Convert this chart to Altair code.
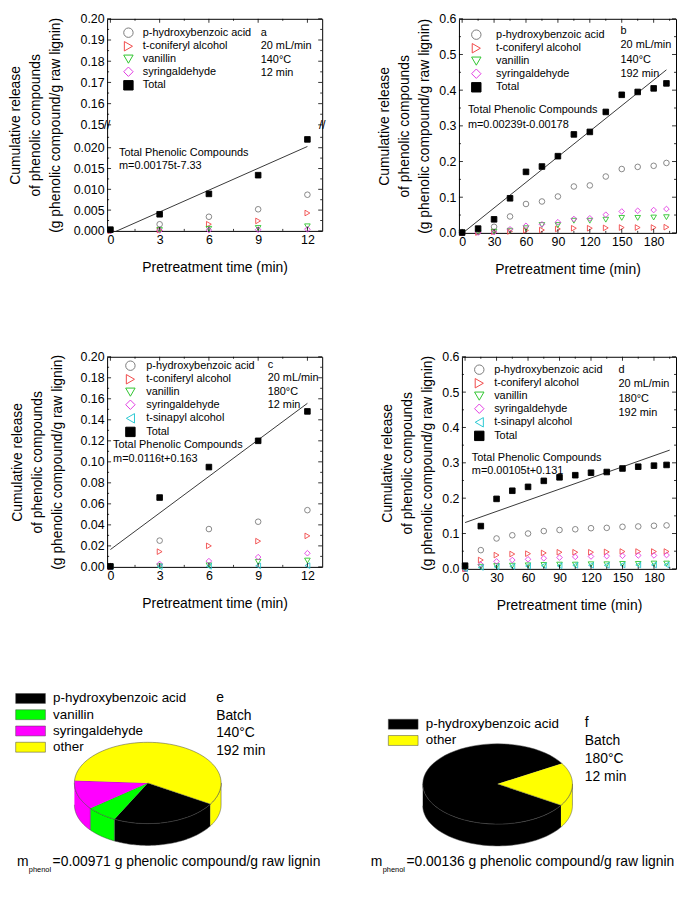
import altair as alt
import pandas as pd

FONT = "Liberation Sans"

# ---------------- data ----------------
time_short = [0, 3, 6, 9, 12]
time_long = [0, 15, 30, 45, 60, 75, 90, 105, 120, 135, 150, 165, 180, 192]

series5 = ["p-hydroxybenzoic acid", "t-coniferyl alcohol", "vanillin", "syringaldehyde", "Total"]
series6 = ["p-hydroxybenzoic acid", "t-coniferyl alcohol", "vanillin", "syringaldehyde",
           "t-sinapyl alcohol", "Total"]

# panel a: 20 mL/min, 140 C, 12 min
a_phb = [0.0001, 0.0016, 0.0034, 0.0052, 0.0087]
a_conif = [0.0, 0.0002, 0.0016, 0.0024, 0.0043]
a_van = [0.0, 0.0002, 0.0005, 0.0007, 0.0011]
a_syr = [0.0, 0.0001, 0.0002, 0.0003, 0.0004]
a_total = [0.0003, 0.0040, 0.0089, 0.0134, 0.0220]
a_fit_t = [0, 12]
a_fit_m = [-0.0007, 0.0203]

# panel b: 20 mL/min, 140 C, 192 min
b_phb = [0.0, 0.003, 0.017, 0.046, 0.081, 0.088, 0.102, 0.130, 0.133, 0.158, 0.179, 0.185, 0.188, 0.196]
b_conif = [0.0, 0.001, 0.003, 0.004, 0.007, 0.008, 0.011, 0.013, 0.013, 0.014, 0.015, 0.015, 0.015, 0.016]
b_van = [0.0, 0.001, 0.003, 0.006, 0.013, 0.022, 0.022, 0.034, 0.034, 0.037, 0.042, 0.042, 0.043, 0.044]
b_syr = [0.0, 0.001, 0.002, 0.010, 0.020, 0.024, 0.030, 0.039, 0.041, 0.051, 0.060, 0.062, 0.064, 0.067]
b_total = [0.001, 0.012, 0.038, 0.097, 0.171, 0.186, 0.215, 0.276, 0.283, 0.339, 0.387, 0.395, 0.405, 0.419]
b_fit_t = [0, 192]
b_fit_m = [-0.0018, 0.457]

# panel c: 20 mL/min, 180 C, 12 min
c_phb = [0.0, 0.025, 0.036, 0.043, 0.054]
c_conif = [0.0, 0.0145, 0.020, 0.0245, 0.0295]
c_van = [0.0, 0.0005, 0.0015, 0.0048, 0.0060]
c_syr = [0.0, 0.0028, 0.0055, 0.0093, 0.0130]
c_sinap = [0.0, 0.0002, 0.0005, 0.0010, 0.0012]
c_total = [0.0005, 0.066, 0.095, 0.120, 0.148]
c_fit_t = [0, 12]
c_fit_m = [0.0165, 0.1557]

# panel d: 20 mL/min, 180 C, 192 min
d_phb = [0.0, 0.053, 0.086, 0.095, 0.100, 0.107, 0.110, 0.112, 0.115, 0.116, 0.119, 0.120, 0.122, 0.123]
d_conif = [0.0, 0.025, 0.039, 0.042, 0.043, 0.045, 0.047, 0.047, 0.047, 0.048, 0.049, 0.049, 0.049, 0.049]
d_van = [0.0, 0.006, 0.008, 0.009, 0.010, 0.011, 0.012, 0.012, 0.013, 0.013, 0.014, 0.014, 0.015, 0.015]
d_syr = [0.0, 0.012, 0.021, 0.025, 0.027, 0.030, 0.032, 0.034, 0.035, 0.036, 0.037, 0.038, 0.038, 0.039]
d_sinap = [0.0, 0.004, 0.006, 0.007, 0.008, 0.009, 0.009, 0.010, 0.010, 0.010, 0.011, 0.011, 0.011, 0.011]
d_total = [0.009, 0.121, 0.198, 0.221, 0.232, 0.249, 0.259, 0.265, 0.272, 0.274, 0.284, 0.289, 0.292, 0.294]
d_fit_t = [0, 195]
d_fit_m = [0.131, 0.336]

# pies (percent of released phenolics)
pie_e_names = ["p-hydroxybenzoic acid", "vanillin", "syringaldehyde", "other"]
pie_e_share = [23.8, 6.8, 11.6, 57.8]
pie_f_names = ["p-hydroxybenzoic acid", "other"]
pie_f_share = [82.6, 17.4]

# tick positions
x_major_short = [0, 3, 6, 9, 12]
x_minor_short = [1.5, 4.5, 7.5, 10.5]
x_major_long = [0, 30, 60, 90, 120, 150, 180]
x_minor_long = [15, 45, 75, 105, 135, 165, 195]
y_major_06 = [0, 0.1, 0.2, 0.3, 0.4, 0.5, 0.6]
y_minor_06 = [0.05, 0.15, 0.25, 0.35, 0.45, 0.55]
y_major_c = [0, 0.02, 0.04, 0.06, 0.08, 0.10, 0.12, 0.14, 0.16, 0.18, 0.20]
y_minor_c = [0.01, 0.03, 0.05, 0.07, 0.09, 0.11, 0.13, 0.15, 0.17, 0.19]

# ---------------- styles ----------------
SHAPES = {"p-hydroxybenzoic acid": "circle", "t-coniferyl alcohol": "triangle-right",
          "vanillin": "triangle-down", "syringaldehyde": "diamond",
          "t-sinapyl alcohol": "triangle-left", "Total": "square"}
STROKES = {"p-hydroxybenzoic acid": "#7a7a7a", "t-coniferyl alcohol": "#f04848",
           "vanillin": "#2ec42e", "syringaldehyde": "#e23ce2",
           "t-sinapyl alcohol": "#2cc8d2", "Total": "#000000"}
FILLS = {k: ("#000000" if k == "Total" else "transparent") for k in STROKES}
PIE_COLORS = {"p-hydroxybenzoic acid": "#000000", "vanillin": "#00ff00",
              "syringaldehyde": "#ff00ff", "other": "#ffff00"}

Y_TITLE = ["Cumulative release", "of phenolic compounds", "(g phenolic compound/g raw lignin)"]
X_TITLE = "Pretreatment time (min)"

# broken axis of panel a
BREAK_LO = 0.0255
UP_LO, UP_HI = 0.15, 0.20
FACTOR = BREAK_LO / (UP_HI - UP_LO)
a_lower_ticks = [0.0, 0.005, 0.010, 0.015, 0.020]
a_lower_minor = [0.0025, 0.0075, 0.0125, 0.0175, 0.0225]
a_upper_ticks = [0.15, 0.16, 0.17, 0.18, 0.19, 0.20]
a_upper_minor = [0.155, 0.165, 0.175, 0.185, 0.195]

# left overhang of the axis in the first column (rows are origin-aligned)
ORIGIN = 100
MAJ, MIN = 4, 2


def one():
    return pd.DataFrame({"o": [0]})


def text_layer(lines, x, y, size=11, lh=13.7, align="left"):
    return alt.Chart(one()).mark_text(
        align=align, baseline="top", font=FONT, fontSize=size, lineHeight=lh, color="black"
    ).encode(x=alt.value(x), y=alt.value(y), text=alt.value(lines))


def tick_layers(xs, ys, xaxis, yaxis, xmaj, xmin, ymaj, ymin, W, H):
    out = []
    for vals, ln in ((xmaj, MAJ), (xmin, MIN)):
        d = pd.DataFrame({"v": vals})
        for y0, y1 in ((H, H - ln), (0, ln)):
            out.append(alt.Chart(d).mark_rule(color="black", strokeWidth=0.8).encode(
                x=alt.X("v:Q", scale=xs, axis=xaxis), y=alt.value(y0), y2=alt.value(y1)))
    for vals, ln in ((ymaj, MAJ), (ymin, MIN)):
        d = pd.DataFrame({"v": vals})
        for x0, x1 in ((0, ln), (W, W - ln)):
            out.append(alt.Chart(d).mark_rule(color="black", strokeWidth=0.8).encode(
                y=alt.Y("v:Q", scale=ys, axis=yaxis), x=alt.value(x0), x2=alt.value(x1)))
    return out


def scatter_panel(times, values, names, fit_t, fit_m, xdom, xticks, xminor, ydom, yticks, yminor,
                  yfmt, width, height, yext, ypad, leg_x, leg_y, leg_off,
                  info, info_xy, info_lh, fit_txt, fit_xy, fit_lh,
                  label_expr=None, broken=False):
    rows = []
    for name, vals in zip(names, values):
        for t, v in zip(times, vals):
            rows.append({"t": t, "m": v, "series": name})
    df = pd.DataFrame(rows)
    fit = pd.DataFrame({"t": fit_t, "m": fit_m})
    if broken:
        ycalc = f"datum.m <= {BREAK_LO} ? datum.m : {BREAK_LO} + (datum.m - {UP_LO}) * {FACTOR}"
    else:
        ycalc = "datum.m"

    xs = alt.Scale(domain=xdom, nice=False, zero=False)
    ys = alt.Scale(domain=ydom, nice=False, zero=False)
    xaxis = alt.Axis(values=xticks, format="d", title=X_TITLE, titlePadding=14,
                     labelPadding=3, ticks=False, domain=False)
    ykw = dict(values=yticks, title=Y_TITLE, titlePadding=ypad, minExtent=yext, maxExtent=yext,
               labelPadding=3, ticks=False, domain=False, titleLineHeight=20)
    if label_expr:
        ykw["labelExpr"] = label_expr
    else:
        ykw["format"] = yfmt
    yaxis = alt.Axis(**ykw)

    leg = alt.Legend(title=None, orient="none", legendX=leg_x, legendY=leg_y, padding=0,
                     symbolSize=90, symbolStrokeWidth=1, labelFontSize=11, labelFont=FONT,
                     labelColor="black", labelOffset=leg_off, rowPadding=-1.3)

    pts = alt.Chart(df).transform_calculate(y=ycalc).mark_point(
        size=32, strokeWidth=0.9, opacity=1
    ).encode(
        x=alt.X("t:Q", scale=xs, axis=xaxis),
        y=alt.Y("y:Q", scale=ys, axis=yaxis),
        shape=alt.Shape("series:N", scale=alt.Scale(domain=names, range=[SHAPES[n] for n in names]),
                        legend=leg, sort=names),
        stroke=alt.Stroke("series:N", scale=alt.Scale(domain=names, range=[STROKES[n] for n in names]),
                          legend=leg, sort=names),
        fill=alt.Fill("series:N", scale=alt.Scale(domain=names, range=[FILLS[n] for n in names]),
                      legend=leg, sort=names),
    )
    line = alt.Chart(fit).transform_calculate(y=ycalc).mark_line(
        color="#222222", strokeWidth=0.9, clip=True
    ).encode(x=alt.X("t:Q", scale=xs, axis=xaxis), y=alt.Y("y:Q", scale=ys, axis=yaxis))

    layers = [line, pts] + tick_layers(xs, ys, xaxis, yaxis, xticks, xminor, yticks, yminor,
                                       width, height)
    layers += [text_layer(info, info_xy[0], info_xy[1], lh=info_lh),
               text_layer(fit_txt, fit_xy[0], fit_xy[1], lh=fit_lh)]
    if broken:
        for xv in (0, width):
            layers.append(alt.Chart(one()).mark_text(
                text="//", font=FONT, fontSize=12, color="black"
            ).encode(x=alt.value(xv),
                     y=alt.YDatum(BREAK_LO, type="quantitative", scale=ys, axis=yaxis)))
    return alt.layer(*layers).properties(width=width, height=height)


def brk(v):
    return BREAK_LO + (v - UP_LO) * FACTOR


a_ticks = a_lower_ticks + [brk(v) for v in a_upper_ticks]
a_minor = a_lower_minor + [brk(v) for v in a_upper_minor]
a_label_expr = (f"datum.value > {BREAK_LO - 0.0005} ? "
                f"format((datum.value - {BREAK_LO}) / {FACTOR} + {UP_LO}, '.2f') : "
                f"format(datum.value, '.3f')")

pa = scatter_panel(time_short, [a_phb, a_conif, a_van, a_syr, a_total], series5,
                   a_fit_t, a_fit_m, [-0.2, 12.9], x_major_short, x_minor_short,
                   [0, 2 * BREAK_LO], a_ticks, a_minor, ".3f",
                   217, 214, 36, 9, 16, 8.5, 9,
                   ["a", "20 mL/min", "140°C", "12 min"], (155, 8), 13.7,
                   ["Total Phenolic Compounds", "m=0.00175t-7.33"], (12, 129), 14,
                   label_expr=a_label_expr, broken=True)

pb = scatter_panel(time_long, [b_phb, b_conif, b_van, b_syr, b_total], series5,
                   b_fit_t, b_fit_m, [-3, 201], x_major_long, x_minor_long,
                   [0, 0.6], y_major_06, y_minor_06, ".1f",
                   219, 216, 24, 4, 12, 10.5, 14.5,
                   ["b", "20 mL/min", "140°C", "192 min"], (163, 6), 14.7,
                   ["Total Phenolic Compounds", "m=0.00239t-0.00178"], (9, 86), 15)

pc = scatter_panel(time_short, [c_phb, c_conif, c_van, c_syr, c_sinap, c_total], series6,
                   c_fit_t, c_fit_m, [-0.2, 12.9], x_major_short, x_minor_short,
                   [0, 0.2], y_major_c, y_minor_c, ".2f",
                   217, 212, 36, 7, 18, 3.5, 10.5,
                   ["c", "20 mL/min", "180°C", "12 min"], (162, 2), 13.7,
                   ["Total Phenolic Compounds", "m=0.0116t+0.163"], (6, 83), 14)

pd_ = scatter_panel(time_long, [d_phb, d_conif, d_van, d_syr, d_sinap, d_total], series6,
                    d_fit_t, d_fit_m, [-3, 201], x_major_long, x_minor_long,
                    [0, 0.6], y_major_06, y_minor_06, ".1f",
                    216, 214, 24, 4, 12, 7.5, 9.5,
                    ["d", "20 mL/min", "180°C", "192 min"], (158, 7), 14.7,
                    ["Total Phenolic Compounds", "m=0.00105t+0.131"], (10, 96), 13.5)


# ---------------- pseudo-3D pies ----------------
N = 60


def pie_panel(names, shares, ccw_rank, start, cx, cy, rx, ry, depth, x0, W, H,
              leg_x, leg_y, info, info_xy, m_xy, mtext):
    """x0: horizontal offset between the panel's own coordinates and its plot origin."""
    df = pd.DataFrame({"slice": names, "share": shares, "k": ccw_rank})
    xs = alt.Scale(domain=[x0, x0 + W], nice=False, zero=False)
    ys = alt.Scale(domain=[0, H], nice=False, zero=False, reverse=True)
    cs = alt.Scale(domain=names, range=[PIE_COLORS[n] for n in names])
    leg = alt.Legend(title=None, orient="none", legendX=leg_x - x0, legendY=leg_y, padding=0,
                     symbolType="M-3,-1H3V1H-3Z", symbolSize=100, symbolStrokeColor="#444444",
                     symbolStrokeWidth=0.5, labelFontSize=13.5, labelFont=FONT, labelColor="black",
                     labelOffset=16, rowPadding=1.4)
    base = (alt.Chart(df)
            .transform_joinaggregate(total="sum(share)")
            .transform_window(cum="sum(share)", sort=[alt.SortField("k", order="ascending")],
                              frame=[None, 0])
            .transform_calculate(a0=f"{start} + (datum.cum - datum.share) / datum.total * 360",
                                 a1=f"{start} + datum.cum / datum.total * 360"))

    sides = (base
             .transform_calculate(band="[-180, 180, 540]")
             .transform_flatten(["band"])
             .transform_calculate(s0="max(datum.a0, datum.band)", s1="min(datum.a1, datum.band + 180)")
             .transform_filter("datum.s1 > datum.s0")
             .transform_calculate(idx=f"sequence(0, {2 * N + 2})")
             .transform_flatten(["idx"])
             .transform_calculate(
                 ang=f"datum.idx <= {N} ? datum.s0 + (datum.s1 - datum.s0) * datum.idx / {N} : "
                     f"datum.s1 - (datum.s1 - datum.s0) * (datum.idx - {N + 1}) / {N}",
                 key="datum.slice + '_' + datum.band")
             .transform_calculate(
                 px=f"{cx} + {rx} * cos(datum.ang * PI / 180)",
                 py=f"{cy} - {ry} * sin(datum.ang * PI / 180) + (datum.idx <= {N} ? 0 : {depth})")
             .mark_line(filled=True, stroke="#444444", strokeWidth=0.5)
             .encode(x=alt.X("px:Q", scale=xs, axis=None), y=alt.Y("py:Q", scale=ys, axis=None),
                     color=alt.Color("slice:N", scale=cs, legend=leg, sort=names),
                     detail="key:N", order=alt.Order("idx:Q")))

    tops = (base
            .transform_calculate(idx=f"sequence(0, {N + 2})")
            .transform_flatten(["idx"])
            .transform_calculate(ang=f"datum.a0 + (datum.a1 - datum.a0) * (datum.idx - 1) / {N}")
            .transform_calculate(
                px=f"datum.idx == 0 ? {cx} : {cx} + {rx} * cos(datum.ang * PI / 180)",
                py=f"datum.idx == 0 ? {cy} : {cy} - {ry} * sin(datum.ang * PI / 180)")
            .mark_line(filled=True, stroke="#444444", strokeWidth=0.5)
            .encode(x=alt.X("px:Q", scale=xs, axis=None), y=alt.Y("py:Q", scale=ys, axis=None),
                    color=alt.Color("slice:N", scale=cs, legend=leg, sort=names),
                    detail="slice:N", order=alt.Order("idx:Q")))

    mx, my = m_xy[0] - x0, m_xy[1]
    texts = [
        text_layer(info, info_xy[0] - x0, info_xy[1], size=14, lh=18),
        alt.Chart(one()).mark_text(align="left", baseline="middle", font=FONT, fontSize=14,
                                   color="black").encode(x=alt.value(mx), y=alt.value(my),
                                                         text=alt.value("m")),
        alt.Chart(one()).mark_text(align="left", baseline="middle", font=FONT, fontSize=7.5,
                                   color="black").encode(x=alt.value(mx + 12), y=alt.value(my + 8),
                                                         text=alt.value("phenol")),
        alt.Chart(one()).mark_text(align="left", baseline="middle", font=FONT, fontSize=14,
                                   color="black").encode(x=alt.value(mx + 36), y=alt.value(my),
                                                         text=alt.value(mtext)),
    ]
    return alt.layer(sides, tops, *texts).properties(
        width=W, height=H, view=alt.ViewBackground(stroke="transparent", strokeWidth=0))


pe = pie_panel(pie_e_names, pie_e_share, [2, 1, 0, 3], 176.7, 141, 98, 74, 41, 22,
               ORIGIN, 327 - ORIGIN, 190,
               16, 6, ["e", "Batch", "140°C", "192 min"], (210, 5),
               (9, 178), "=0.00971 g phenolic compound/g raw lignin")
pf = pie_panel(pie_f_names, pie_f_share, [1, 0], -32.1, 157, 99, 75.5, 40.5, 22,
               0, 330, 190,
               55, 32, ["f", "Batch", "180°C", "12 min"], (245, 31),
               (29, 178), "=0.00136 g phenolic compound/g raw lignin")


def indep(c):
    return (c.resolve_scale(x="independent", y="independent", color="independent",
                            shape="independent", stroke="independent", fill="independent")
            .resolve_legend(color="independent", shape="independent", stroke="independent",
                            fill="independent")
            .resolve_axis(x="independent", y="independent"))


row1 = indep(alt.hconcat(pa, pb, spacing=51))
row2 = indep(alt.hconcat(pc, pd_, spacing=57))
row3 = indep(alt.hconcat(pe, pf, spacing=10))

chart = indep(alt.vconcat(row1, row2, row3, spacing=74)).properties(padding=0).configure(
    font=FONT
).configure_axis(
    labelFont=FONT, titleFont=FONT, labelFontSize=12.5, titleFontSize=14,
    titleFontWeight="normal", labelColor="black", titleColor="black",
    domainColor="black", tickColor="black", grid=False
).configure_view(stroke="black", strokeWidth=1)

chart.save("out.html", embed_options={"renderer": "svg", "actions": False})
